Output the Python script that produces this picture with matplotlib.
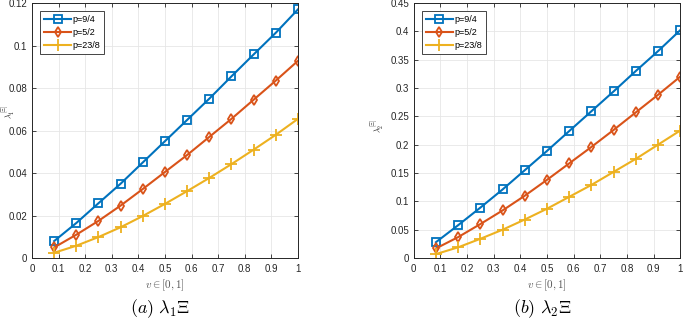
import numpy as np
import matplotlib
matplotlib.use("Agg")
import matplotlib.pyplot as plt

# ============================
# Dados
# ============================
v = np.arange(1, 13) / 12.0

# (a) lambda_1 Xi
lam1_p94 = [0.008, 0.0165, 0.0258, 0.035, 0.045, 0.055, 0.065, 0.075, 0.0855, 0.0958, 0.106, 0.117]
lam1_p52 = [0.005, 0.011, 0.0175, 0.0247, 0.0325, 0.0405, 0.0485, 0.057, 0.0655, 0.0745, 0.0835, 0.0928]
lam1_p238 = [0.0025, 0.0058, 0.0099, 0.0145, 0.0198, 0.0255, 0.0315, 0.0377, 0.0442, 0.051, 0.058, 0.0655]

# (b) lambda_2 Xi
lam2_p94 = [0.028, 0.058, 0.089, 0.121, 0.155, 0.189, 0.224, 0.259, 0.294, 0.330, 0.365, 0.402]
lam2_p52 = [0.017, 0.037, 0.060, 0.084, 0.110, 0.138, 0.167, 0.196, 0.226, 0.257, 0.288, 0.320]
lam2_p238 = [0.007, 0.019, 0.034, 0.050, 0.068, 0.087, 0.108, 0.129, 0.152, 0.175, 0.200, 0.225]

labels = ['p=9/4', 'p=5/2', 'p=23/8']
cores = ['#0072BD', '#D95319', '#EDB120']
marcadores = ['s', 'd', '+']

plt.rcParams['font.family'] = ['Liberation Sans', 'DejaVu Sans']
plt.rcParams['mathtext.fontset'] = 'cm'

fig = plt.figure(figsize=(6.85, 3.19), dpi=100)
ax1 = fig.add_axes([0.0467, 0.191, 0.3883, 0.7996])
ax2 = fig.add_axes([0.604, 0.191, 0.389, 0.7996])

def fmt(x, pos):
    s = ('%.2f' % x).rstrip('0').rstrip('.')
    return s

def desenha(ax, series, ymax, ystep, ylabel, ylx, yly):
    for y, lab, c, m in zip(series, labels, cores, marcadores):
        ax.plot(v, y, color=c, marker=m, lw=1.5, ms=5.5 if m != '+' else 8,
                mfc='none', mew=1.3, label=lab)
    ax.set_xlim(0, 1)
    ax.set_ylim(0, ymax)
    ax.set_xticks(np.arange(0, 1.01, 0.1))
    ax.set_yticks(np.arange(0, ymax + 1e-9, ystep))
    ax.xaxis.set_major_formatter(matplotlib.ticker.FuncFormatter(fmt))
    ax.yaxis.set_major_formatter(matplotlib.ticker.FuncFormatter(fmt))
    ax.tick_params(direction='in', top=True, right=True, labelsize=7,
                   colors='#262626', length=3, width=0.6, pad=4)
    ax.tick_params(axis='y', pad=3.5)
    ax.grid(True, color='#e6e6e6', lw=0.6)
    ax.set_axisbelow(True)
    for s in ax.spines.values():
        s.set_color('#262626')
        s.set_linewidth(0.7)
    ax.set_xlabel(r'$v \in [0,1]$', fontsize=8, color='#555555')
    ax.xaxis.set_label_coords(0.5, -0.078)
    ax.set_ylabel(ylabel, fontsize=6, color='#262626')
    ax.yaxis.set_label_coords(ylx, yly)
    leg = ax.legend(loc='upper left', fontsize=6.5, handlelength=3.0,
                    fancybox=False, edgecolor='#262626', framealpha=1,
                    borderaxespad=0.9, labelspacing=0.45, handletextpad=0.1,
                    borderpad=0.45)
    leg.get_frame().set_linewidth(0.6)

desenha(ax1, [lam1_p94, lam1_p52, lam1_p238], 0.12, 0.02, r'$\lambda_1^{[\Xi]}$', -0.055, 0.575)
desenha(ax2, [lam2_p94, lam2_p52, lam2_p238], 0.45, 0.05, r'$\lambda_2^{[\Xi]}$', -0.105, 0.52)

fig.text(0.234, 0.018, r'$(a)\ \lambda_1\Xi$', ha='center', va='baseline', fontsize=13)
fig.text(0.792, 0.018, r'$(b)\ \lambda_2\Xi$', ha='center', va='baseline', fontsize=13)

fig.savefig('out.png', dpi=100)
